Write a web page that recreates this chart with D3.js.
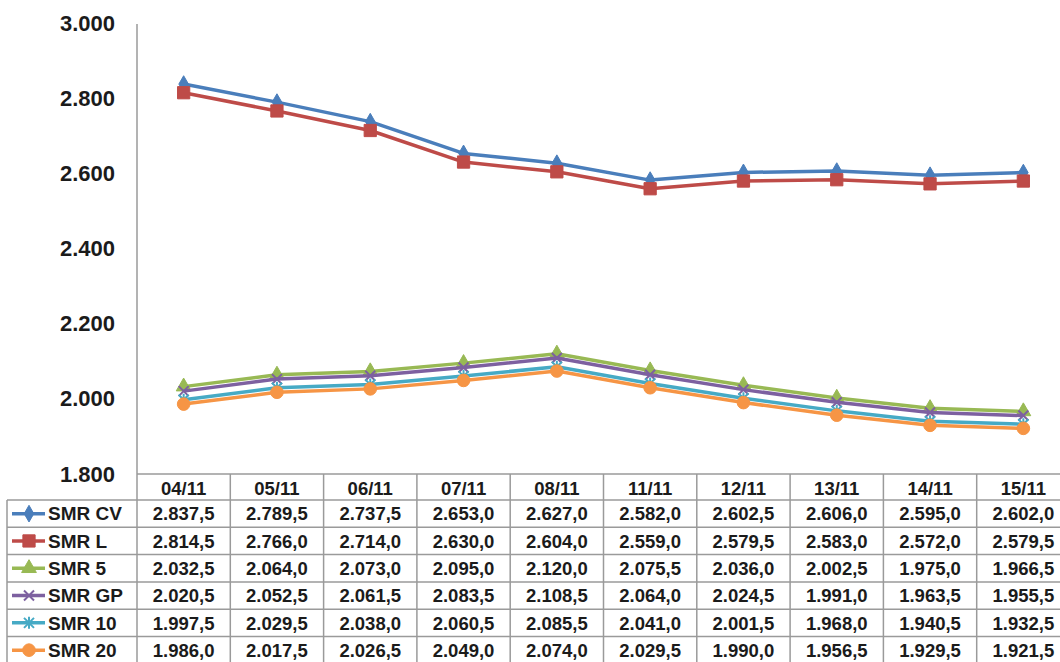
<!DOCTYPE html>
<html>
<head>
<meta charset="utf-8">
<script src="https://cdn.jsdelivr.net/npm/d3@7"></script>
<style>
  html, body { margin: 0; padding: 0; background: #fff; }
  svg { display: block; font-family: "Liberation Sans", Arial, sans-serif; }
</style>
</head>
<body>
<svg id="chart" width="1060" height="662"></svg>
<script>
// Trading days
const dates = ["04/11", "05/11", "06/11", "07/11", "08/11", "11/11", "12/11", "13/11", "14/11", "15/11"];

// Series names and closing prices
const seriesNames = ["SMR CV", "SMR L", "SMR 5", "SMR GP", "SMR 10", "SMR 20"];
const smrCV = [2837.5, 2789.5, 2737.5, 2653.0, 2627.0, 2582.0, 2602.5, 2606.0, 2595.0, 2602.0];
const smrL  = [2814.5, 2766.0, 2714.0, 2630.0, 2604.0, 2559.0, 2579.5, 2583.0, 2572.0, 2579.5];
const smr5  = [2032.5, 2064.0, 2073.0, 2095.0, 2120.0, 2075.5, 2036.0, 2002.5, 1975.0, 1966.5];
const smrGP = [2020.5, 2052.5, 2061.5, 2083.5, 2108.5, 2064.0, 2024.5, 1991.0, 1963.5, 1955.5];
const smr10 = [1997.5, 2029.5, 2038.0, 2060.5, 2085.5, 2041.0, 2001.5, 1968.0, 1940.5, 1932.5];
const smr20 = [1986.0, 2017.5, 2026.5, 2049.0, 2074.0, 2029.5, 1990.0, 1956.5, 1929.5, 1921.5];

// Value axis ticks
const yTicks = [1800, 2000, 2200, 2400, 2600, 2800, 3000];

const colors = ["#4A7EBB", "#BE4B48", "#98B954", "#7D60A0", "#46AAC5", "#F69545"];
const markers = ["diamond", "square", "triangle", "x", "star", "circle"];
const values = [smrCV, smrL, smr5, smrGP, smr10, smr20];
const series = seriesNames.map((name, i) => ({ name, values: values[i], color: colors[i], marker: markers[i] }));

// Vietnamese number format: "." thousands, "," decimals
const vn = d3.formatLocale({ decimal: ",", thousands: ".", grouping: [3], currency: ["", ""] });
const fmtInt = vn.format(",.0f");
const fmtVal = vn.format(",.1f");

const svg = d3.select("#chart");
const W = 1060, H = 662;

const plotLeft = 137, colW = 93.3;
const plotTop = 23, plotBottom = 474;
const headerBottom = 500, rowH = 27.3, tableLeft = 7;

const x = d3.scaleBand().domain(dates).range([plotLeft, plotLeft + colW * dates.length]).padding(0);
const y = d3.scaleLinear().domain([1800, 3000]).range([plotBottom, plotTop]);

const gridColor = "#9a9a9a";
const textColor = "#1b1b1b";

// Y axis
const yAxis = d3.axisLeft(y).tickValues(yTicks).tickSize(0).tickPadding(22).tickFormat(fmtInt);
const gy = svg.append("g").attr("transform", `translate(${plotLeft},0)`).call(yAxis);
gy.select(".domain").remove();
gy.selectAll("text")
  .attr("font-size", 22).attr("font-weight", "bold").attr("fill", textColor)
  .attr("font-family", "'Liberation Sans', Arial, sans-serif");

// Data table grid
const tbl = svg.append("g").attr("stroke", gridColor).attr("stroke-width", 1.5).attr("fill", "none");
tbl.append("line").attr("x1", plotLeft).attr("x2", W).attr("y1", plotBottom).attr("y2", plotBottom);
seriesNames.forEach((_, i) => {
  const yy = headerBottom + i * rowH;
  tbl.append("line").attr("x1", tableLeft).attr("x2", W).attr("y1", yy).attr("y2", yy);
});
tbl.append("line").attr("x1", tableLeft).attr("x2", tableLeft).attr("y1", headerBottom).attr("y2", H);
tbl.append("line").attr("x1", plotLeft).attr("x2", plotLeft).attr("y1", plotTop + 1).attr("y2", H);
dates.forEach(d => {
  const xx = x(d) + x.bandwidth();
  tbl.append("line").attr("x1", xx).attr("x2", xx).attr("y1", plotBottom).attr("y2", H);
});

// Header labels
svg.append("g").selectAll("text").data(dates).join("text")
  .attr("x", d => x(d) + x.bandwidth() / 2)
  .attr("y", (plotBottom + headerBottom) / 2 + 1)
  .attr("dy", "0.36em")
  .attr("text-anchor", "middle")
  .attr("font-size", 18.5).attr("font-weight", "bold").attr("fill", textColor)
  .text(d => d);

// Marker shapes
function markerPath(type) {
  switch (type) {
    case "diamond": return d3.symbol(d3.symbolDiamond, 80)();
    case "square": return d3.symbol(d3.symbolSquare, 150)();
    case "triangle": return d3.symbol(d3.symbolTriangle, 95)();
    case "circle": return d3.symbol(d3.symbolCircle, 125)();
    case "x": return "M-5,-5L5,5M-5,5L5,-5";
    case "star": return "M-5,-5L5,5M-5,5L5,-5M0,-6L0,6";
  }
}
function drawMarker(g, s, cx, cy) {
  const filled = ["diamond", "square", "triangle", "circle"].includes(s.marker);
  g.append("path")
    .attr("d", markerPath(s.marker))
    .attr("transform", `translate(${cx},${cy})`)
    .attr("fill", filled ? s.color : "none")
    .attr("stroke", s.color)
    .attr("stroke-width", filled ? 1 : 2);
}

// Lines and markers
const line = d3.line().x((d, i) => x(dates[i]) + x.bandwidth() / 2).y(d => y(d));
series.forEach(s => {
  const g = svg.append("g");
  g.append("path").datum(s.values)
    .attr("d", line)
    .attr("fill", "none")
    .attr("stroke", s.color)
    .attr("stroke-width", 3.5)
    .attr("stroke-linejoin", "round");
  s.values.forEach((v, i) => drawMarker(g, s, x(dates[i]) + x.bandwidth() / 2, y(v)));
});

// Table rows: legend key, name, values
series.forEach((s, r) => {
  const cy = headerBottom + r * rowH + rowH / 2;
  const g = svg.append("g");
  g.append("line").attr("x1", 12).attr("x2", 45).attr("y1", cy).attr("y2", cy)
    .attr("stroke", s.color).attr("stroke-width", 3.5);
  drawMarker(g, s, 29, cy);
  g.append("text").attr("x", 48).attr("y", cy).attr("dy", "0.36em")
    .attr("font-size", 19).attr("font-weight", "bold").attr("fill", textColor)
    .text(s.name);
  g.selectAll("text.v").data(s.values).join("text").attr("class", "v")
    .attr("x", (d, i) => x(dates[i]) + x.bandwidth() / 2)
    .attr("y", cy).attr("dy", "0.36em")
    .attr("text-anchor", "middle")
    .attr("font-size", 18.5).attr("font-weight", "bold").attr("fill", textColor)
    .text(d => fmtVal(d));
});
</script>
</body>
</html>
